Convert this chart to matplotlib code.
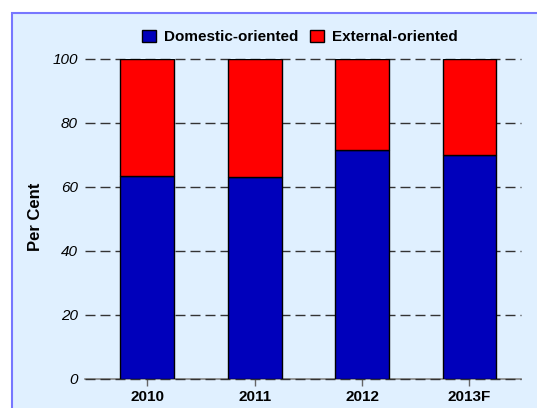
import matplotlib
matplotlib.use('Agg')
import matplotlib.pyplot as plt
from matplotlib.patches import Rectangle, Patch

plt.rcParams['font.family'] = ['Liberation Sans', 'DejaVu Sans']

# ---------------- data ----------------
years = ["2010", "2011", "2012", "2013F"]
domestic = [63.5, 63.2, 71.5, 69.9]
external = [100 - d for d in domestic]
y_ticks = [0, 20, 40, 60, 80, 100]

blue = "#0000BB"
red = "#FF0000"
panel_bg = "#E0F0FF"
panel_edge = "#7777FF"

fig = plt.figure(figsize=(5.37, 4.08), dpi=100)
fig.patch.set_facecolor("white")

# light blue panel behind everything (runs off the right and bottom edges)
W, H = 537, 408
panel = Rectangle((12 / W, -1.0), 2.0, 2.0 - 13 / H, transform=fig.transFigure,
                  facecolor=panel_bg, edgecolor=panel_edge, linewidth=1.5, zorder=-5)
fig.patches.append(panel)

ax = fig.add_axes([85 / W, 29 / H, (521 - 85) / W, (379 - 59) / H])
ax.set_facecolor("none")
ax.set_zorder(2)

x = list(range(len(years)))
ax.bar(x, domestic, width=0.5, color=blue, edgecolor="black", linewidth=1, zorder=3)
ax.bar(x, external, width=0.5, bottom=domestic, color=red, edgecolor="black",
       linewidth=1, zorder=3)

ax.axhline(0, color="#888888", linewidth=1.2, zorder=1, clip_on=False)
for t in y_ticks:
    ax.axhline(t, color="#333333", linewidth=1, linestyle=(0, (7.2, 3.6)),
               zorder=2, clip_on=False)

ax.set_xlim(-0.58, 3.48)
ax.set_ylim(0, 100)
ax.set_yticks(y_ticks)
ax.set_yticklabels([str(t) for t in y_ticks], fontstyle="italic", fontsize=11)
ax.tick_params(axis="y", length=0, pad=5)
ax.set_xticks(x)
ax.set_xticklabels(years, fontweight="bold", fontsize=11)
ax.tick_params(axis="x", length=5, color="#666666", width=1, pad=3)

for s in ax.spines.values():
    s.set_visible(False)

fig.text(36 / W, 1 - 217 / H, "Per Cent", rotation=90, fontweight="bold",
         fontsize=12, ha="center", va="center")

handles = [Patch(facecolor=blue, edgecolor="black", label="Domestic-oriented"),
           Patch(facecolor=red, edgecolor="black", label="External-oriented")]
leg = fig.legend(handles=handles, ncol=2, frameon=False, loc="center",
                 bbox_to_anchor=(300 / W, 1 - 37 / H), handlelength=0.9,
                 handleheight=0.9, handletextpad=0.5, columnspacing=0.8,
                 prop={"weight": "bold", "size": 11})

fig.savefig("out.png", dpi=100, facecolor="white")
